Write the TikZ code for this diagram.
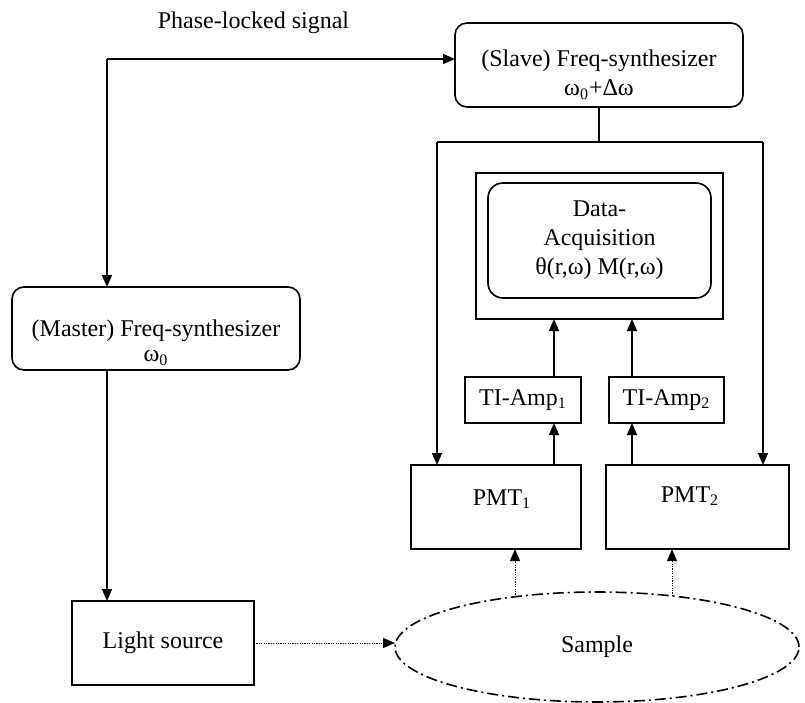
\documentclass[tikz,border=0pt]{standalone}
\usepackage{fontspec}
\setmainfont{Liberation Serif}
\usetikzlibrary{arrows.meta,shapes.geometric}
\begin{document}
\begin{tikzpicture}[x=0.5pt,y=-0.5pt,
  line width=0.8pt,
  font=\fontsize{12}{14.5}\selectfont,
  sqbox/.style={draw, rectangle, inner sep=0pt, outer sep=0pt, align=center},
  rbox/.style={draw, rectangle, rounded corners=6pt, inner sep=0pt, outer sep=0pt, align=center},
  lbl/.style={align=center, inner sep=0pt},
  arr/.style={-{Triangle[length=6pt,width=5pt]}},
  dotarr/.style={line width=0.5pt, dash pattern=on 0.6pt off 0.6pt, -{Triangle[length=6pt,width=5pt]}},
]
\useasboundingbox (0,0) rectangle (805,703);

% boxes
\node[rbox, minimum width=144pt, minimum height=41.5pt] (master) at (156,328.5) {};
\node[lbl] (masterlbl) at (156,343) {(Master) Freq-synthesizer\\[-2pt]ω\textsubscript{0}};

\node[rbox, minimum width=144pt, minimum height=42pt] (slave) at (599,65) {};
\node[lbl] (slavelbl) at (599,75) {(Slave) Freq-synthesizer\\ω\textsubscript{0}+Δω};

\node[sqbox, minimum width=123.5pt, minimum height=73pt] (daq) at (599.5,246) {};
\node[rbox, rounded corners=7.5pt, minimum width=111.5pt, minimum height=57.5pt] (daqin) at (599.5,240.5)
  {Data-\\Acquisition\\θ(r,ω) M(r,ω)};

\node[sqbox, minimum width=58pt, minimum height=23pt] (tia1) at (523,400) {TI-Amp\textsubscript{1}};
\node[sqbox, minimum width=57.5pt, minimum height=23pt] (tia2) at (666.5,400) {TI-Amp\textsubscript{2}};

\node[sqbox, minimum width=85pt, minimum height=42pt] (pmt1) at (496,507) {};
\node[lbl] (pmt1lbl) at (502,499) {PMT\textsubscript{1}};
\node[sqbox, minimum width=91.5pt, minimum height=42pt] (pmt2) at (697.5,507) {};
\node[lbl] (pmt2lbl) at (690,496) {PMT\textsubscript{2}};

\node[sqbox, minimum width=91pt, minimum height=42pt] (light) at (163,643) {Light source};

\node[draw, ellipse, minimum width=202pt, minimum height=55pt, inner sep=0pt, outer sep=0pt,
  dash pattern=on 5.5pt off 2pt on 1pt off 2pt] (sample) at (597,647) {Sample};

\node[lbl] (plsig) at (253.5,23) {Phase-locked signal};

% coordinates
\coordinate (c1) at (107,59);
\coordinate (cl) at (437,142);
\coordinate (cr) at (763,142);
\coordinate (a1) at (554,0);
\coordinate (a2) at (632,0);
\coordinate (s1) at (515,597);
\coordinate (s2) at (672,596);

% phase-locked loop
\draw[arr] (c1) -- (slave.west |- c1);
\draw[arr] (c1) -- (c1 |- master.north);
\draw[arr] (c1 |- master.south) -- (c1 |- light.north);

% slave to PMTs
\draw (slave.south) -- (slave.south |- cl);
\draw (cl) -- (cr);
\draw[arr] (cl) -- (cl |- pmt1.north);
\draw[arr] (cr) -- (cr |- pmt2.north);

% PMT -> TIA -> DAQ
\draw[arr] (a1 |- pmt1.north) -- (a1 |- tia1.south);
\draw[arr] (a2 |- pmt2.north) -- (a2 |- tia2.south);
\draw[arr] (a1 |- tia1.north) -- (a1 |- daq.south);
\draw[arr] (a2 |- tia2.north) -- (a2 |- daq.south);

% light paths
\draw[dotarr] (light.east) -- (sample.west |- light.east);
\draw[dotarr] (s1) -- (s1 |- pmt1.south);
\draw[dotarr] (s2) -- (s2 |- pmt2.south);
\end{tikzpicture}
\end{document}
